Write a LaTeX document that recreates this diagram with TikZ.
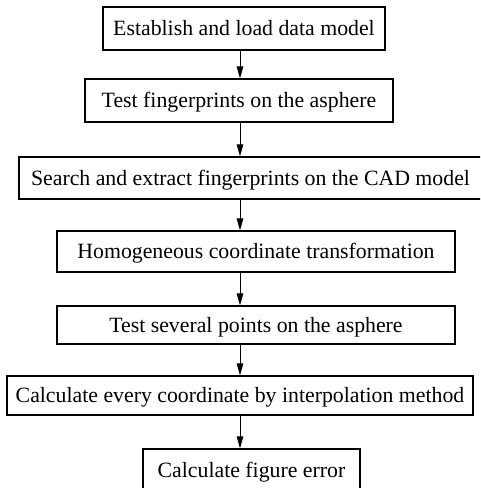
\documentclass[tikz,border=0pt]{standalone}
\usepackage{fontspec}
\setmainfont{Liberation Serif}
\usetikzlibrary{arrows.meta}
\begin{document}
\begin{tikzpicture}[x=1pt,y=-1pt,
  box/.style={draw, line width=1.1pt, inner sep=0pt, text height=14.4pt, text depth=0pt, font=\fontsize{21.8}{24}\selectfont},
  arr/.style={-{Triangle[length=12pt,width=6.5pt]}, line width=1pt}]
\useasboundingbox (0,0) rectangle (480,488);
\clip (0,0) rectangle (480,488);
\coordinate (ax) at (240,0);
\node[box, minimum width=282pt, minimum height=43pt] (b1) at (244,28.5) {Establish and load data model};
\node[box, minimum width=308pt, minimum height=43pt] (b2) at (239,100.5) {Test fingerprints on the asphere};
\node[box, minimum width=463pt, minimum height=42pt] (b3) at (250.5,178) {Search and extract fingerprints on the CAD model};
\node[box, minimum width=398pt, minimum height=41pt] (b4) at (256,251.5) {Homogeneous coordinate transformation};
\node[box, minimum width=398pt, minimum height=38pt] (b5) at (256,325) {Test several points on the asphere};
\node[box, minimum width=466pt, minimum height=39pt] (b6) at (240,395.5) {Calculate every coordinate by interpolation method};
\node[box, minimum width=217pt, minimum height=43pt] (b7) at (251.5,470.5) {Calculate figure error};
\draw[arr] (b1.south -| ax) -- (b2.north -| ax);
\draw[arr] (b2.south -| ax) -- (b3.north -| ax);
\draw[arr] (b3.south -| ax) -- (b4.north -| ax);
\draw[arr] (b4.south -| ax) -- (b5.north -| ax);
\draw[arr] (b5.south -| ax) -- (b6.north -| ax);
\draw[arr] (b6.south -| ax) -- (b7.north -| ax);
\end{tikzpicture}
\end{document}
